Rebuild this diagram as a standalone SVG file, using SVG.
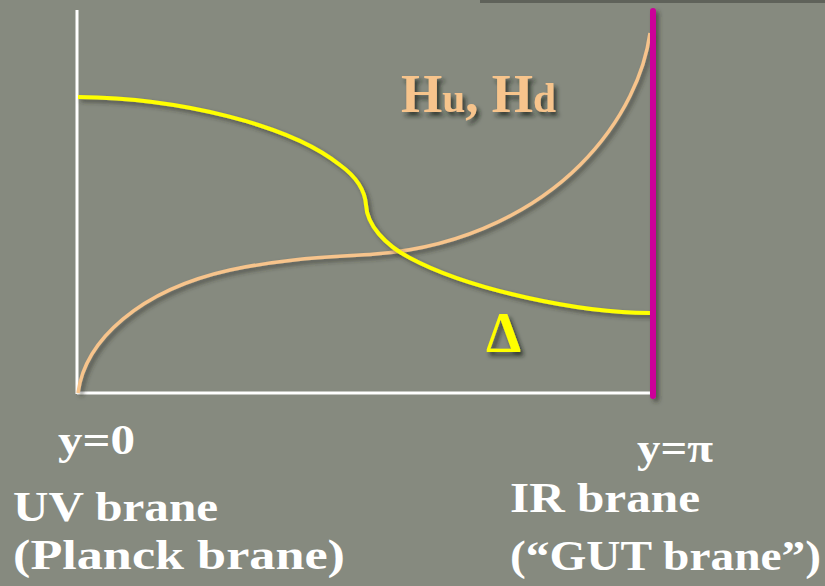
<svg xmlns="http://www.w3.org/2000/svg" width="825" height="586" viewBox="0 0 825 586">
<defs>
<filter id="sh" filterUnits="userSpaceOnUse" x="0" y="0" width="825" height="586">
<feDropShadow dx="3" dy="3" stdDeviation="2" flood-color="#2a2d26" flood-opacity="0.6"/>
</filter>
<filter id="tsh" x="-20%" y="-20%" width="140%" height="140%">
<feDropShadow dx="3" dy="4" stdDeviation="2" flood-color="#1e201b" flood-opacity="0.75"/>
</filter>
</defs>
<style>
.lbl{font-family:"Liberation Serif","Times New Roman",serif;font-weight:bold;fill:#ffffff;}
.axis{stroke:#ffffff;stroke-width:3;fill:none;}
</style>
<rect x="0" y="0" width="825" height="586" fill="#868a7f"/>
<rect x="480" y="0" width="345" height="3" fill="#5f625a"/>
<g id="axes">
<line class="axis" x1="77" y1="10" x2="77" y2="394"/>
<line class="axis" x1="77" y1="393" x2="653" y2="393"/>
</g>
<g id="connectors">
<path id="hu-hd-curve" d="M78,393 C85,340 140,290 230,270 C290,257 340,257 375,254 C470,247 540,205 580,165 C625,120 645,70 650,33" fill="none" stroke="#f7c48c" stroke-width="3.5" filter="url(#sh)"/>
<path id="delta-curve" d="M78,97 C180,98 290,125 340,165 C358,178 365,192 366,205 C367,225 385,245 410,258 C470,290 580,313 650,313" fill="none" stroke="#ffff00" stroke-width="4" filter="url(#sh)"/>
</g>
<g id="ir-brane-line">
<rect x="650" y="8" width="6" height="391" rx="3" fill="#cc0099" filter="url(#sh)"/>
</g>
<g id="label-hu-hd" filter="url(#tsh)">
<text x="401" y="112" font-family="Liberation Serif, Times New Roman, serif" font-weight="bold" fill="#f7c48c" font-size="54" textLength="155" lengthAdjust="spacingAndGlyphs">H<tspan font-size="42">u</tspan>, H<tspan font-size="42">d</tspan></text>
</g>
<g id="label-delta" filter="url(#tsh)">
<text x="486" y="352" font-family="Liberation Serif, Times New Roman, serif" font-weight="bold" fill="#ffff00" font-size="56">Δ</text>
</g>
<g id="uv-labels">
<text class="lbl" x="58" y="454" font-size="42" textLength="77" lengthAdjust="spacingAndGlyphs">y=0</text>
<text class="lbl" x="13" y="521" font-size="43" textLength="205" lengthAdjust="spacingAndGlyphs">UV brane</text>
<text class="lbl" x="13" y="569" font-size="43" textLength="332" lengthAdjust="spacingAndGlyphs">(Planck brane)</text>
</g>
<g id="ir-labels">
<text class="lbl" x="637" y="462" font-size="42" textLength="76" lengthAdjust="spacingAndGlyphs">y=π</text>
<text class="lbl" x="510" y="512" font-size="43" textLength="190" lengthAdjust="spacingAndGlyphs">IR brane</text>
<text class="lbl" x="510" y="570" font-size="43" textLength="311" lengthAdjust="spacingAndGlyphs">(“GUT brane”)</text>
</g>
</svg>
